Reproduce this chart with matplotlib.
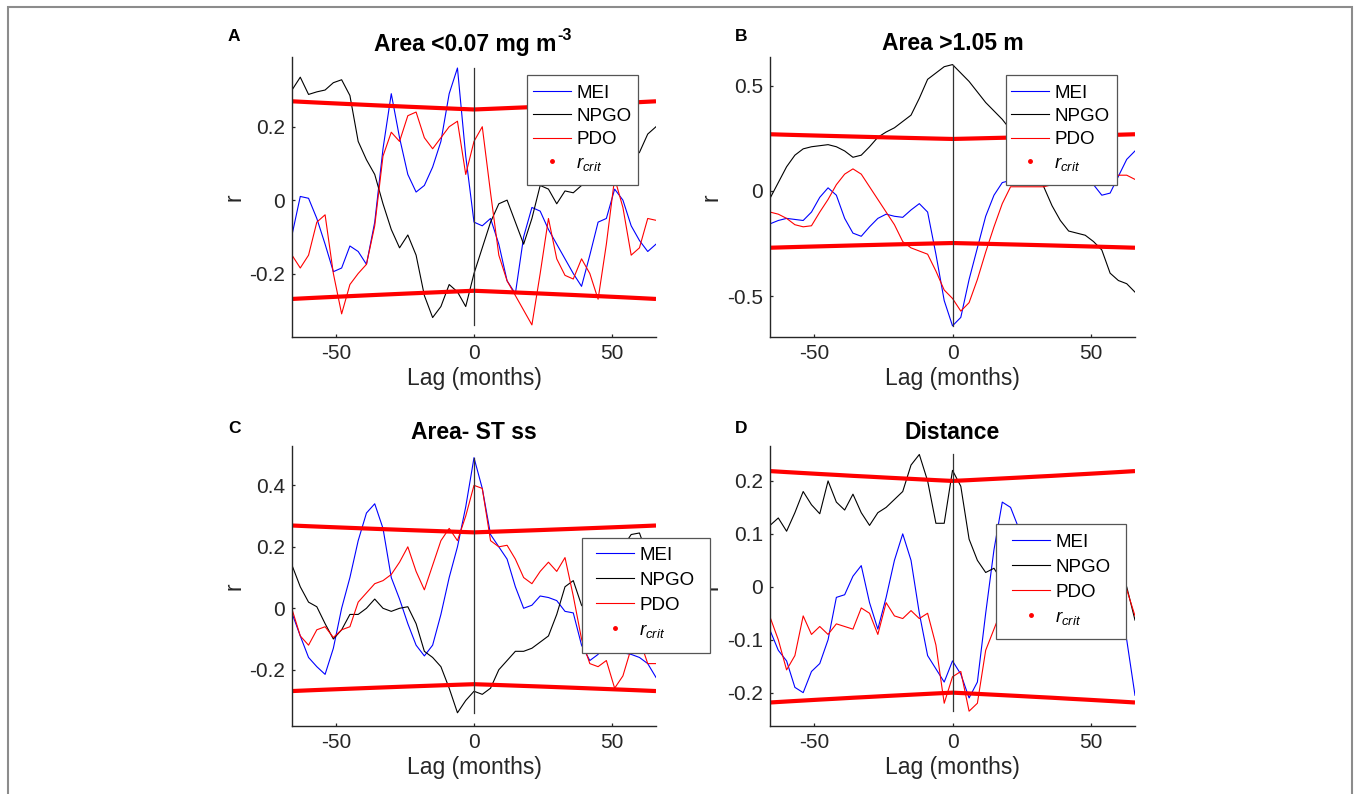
import matplotlib
matplotlib.use("Agg")
import matplotlib.pyplot as plt
from matplotlib.lines import Line2D
from matplotlib.patches import Rectangle

plt.rcParams['font.family'] = ['Liberation Sans', 'DejaVu Sans']
plt.rcParams['axes.unicode_minus'] = False
plt.rcParams['mathtext.fontset'] = 'custom'
plt.rcParams['mathtext.rm'] = 'Liberation Sans'
plt.rcParams['mathtext.it'] = 'Liberation Sans:italic'
plt.rcParams['mathtext.bf'] = 'Liberation Sans:bold'

# ---------------- data ----------------
lag = [-66, -63, -60, -57, -54, -51, -48, -45, -42, -39, -36, -33, -30, -27, -24,
       -21, -18, -15, -12, -9, -6, -3, 0, 3, 6, 9, 12, 15, 18, 21, 24, 27, 30, 33,
       36, 39, 42, 45, 48, 51, 54, 57, 60, 63, 66]

mei_A = [-0.095, 0.010, 0.005, -0.05, -0.12, -0.195, -0.185, -0.125, -0.14, -0.175,
         -0.06, 0.14, 0.29, 0.17, 0.07, 0.022, 0.04, 0.09, 0.16, 0.29,
         0.36, 0.12, -0.06,
         -0.07, -0.05, -0.12, -0.22, -0.255, -0.10, -0.02, -0.03, -0.08, -0.12,
         -0.16, -0.20, -0.235, -0.15, -0.06, -0.05, 0.03, 0.0, -0.07, -0.11,
         -0.14, -0.12]
npgo_A = [0.30, 0.335, 0.288, 0.295, 0.30, 0.32, 0.328, 0.285, 0.16, 0.11,
          0.07, -0.01, -0.08, -0.13, -0.095, -0.15, -0.26, -0.32, -0.29, -0.23,
          -0.25, -0.29, -0.20,
          -0.13, -0.06, -0.01, 0.0, -0.06, -0.12, -0.05, 0.04, 0.03, -0.01,
          0.025, 0.02, 0.04, 0.05, 0.05, 0.07, 0.09, 0.10, 0.11, 0.13,
          0.18, 0.20]
pdo_A = [-0.15, -0.185, -0.15, -0.06, -0.04, -0.2, -0.31, -0.23, -0.2, -0.175,
         -0.07, 0.12, 0.185, 0.16, 0.23, 0.24, 0.17, 0.14, 0.17, 0.2,
         0.215, 0.07, 0.16,
         0.2, 0.02, -0.15, -0.22, -0.26, -0.3, -0.34, -0.2, -0.05, -0.16,
         -0.205, -0.215, -0.16, -0.2, -0.27, -0.12, 0.06, -0.02, -0.15, -0.13,
         -0.05, -0.055]

mei_B = [-0.156, -0.14, -0.13, -0.135, -0.14, -0.1, -0.03, 0.015, -0.02, -0.13,
         -0.2, -0.215, -0.17, -0.13, -0.11, -0.12, -0.125, -0.09, -0.06, -0.1,
         -0.3, -0.52, -0.64,
         -0.6, -0.42, -0.27, -0.12, -0.02, 0.04, 0.05, 0.05, 0.05, 0.04,
         0.04, 0.04, 0.05, 0.06, 0.06, 0.05, 0.03, -0.02, -0.01, 0.07,
         0.15, 0.19]
npgo_B = [-0.035, 0.04, 0.115, 0.17, 0.2, 0.21, 0.215, 0.22, 0.21, 0.19,
          0.16, 0.17, 0.21, 0.255, 0.28, 0.3, 0.33, 0.36, 0.44, 0.53,
          0.56, 0.59, 0.6,
          0.56, 0.52, 0.47, 0.42, 0.38, 0.34, 0.29, 0.22, 0.14, 0.07,
          0.02, -0.07, -0.14, -0.19, -0.2, -0.21, -0.24, -0.28, -0.39, -0.425,
          -0.44, -0.48]
pdo_B = [-0.1, -0.11, -0.13, -0.16, -0.17, -0.165, -0.1, -0.04, 0.03, 0.08,
         0.105, 0.08, 0.02, -0.04, -0.1, -0.16, -0.24, -0.27, -0.285, -0.3,
         -0.38, -0.47, -0.51,
         -0.57, -0.53, -0.42, -0.29, -0.17, -0.06, 0.02, 0.02, 0.02, 0.02,
         0.02, 0.03, 0.04, 0.05, 0.05, 0.05, 0.05, 0.06, 0.065, 0.075,
         0.075, 0.055]

mei_C = [-0.016, -0.09, -0.16, -0.19, -0.215, -0.13, 0.0, 0.1, 0.22, 0.31,
         0.34, 0.26, 0.1, 0.03, -0.05, -0.12, -0.155, -0.12, -0.02, 0.1,
         0.2, 0.33, 0.49,
         0.39, 0.24, 0.2, 0.16, 0.07, 0.0, 0.01, 0.04, 0.035, 0.025,
         -0.01, -0.015, -0.12, -0.17, -0.15, -0.1, -0.08, -0.145, -0.15, -0.16,
         -0.18, -0.225]
npgo_C = [0.14, 0.07, 0.02, 0.005, -0.05, -0.1, -0.07, -0.02, -0.02, 0.0,
          0.03, 0.0, -0.01, 0.0, 0.005, -0.05, -0.14, -0.16, -0.19, -0.26,
          -0.34, -0.3, -0.27,
          -0.28, -0.26, -0.2, -0.17, -0.14, -0.14, -0.13, -0.11, -0.09, -0.02,
          0.07, 0.09, 0.01, -0.02, 0.0, 0.06, 0.13, 0.2, 0.24, 0.245,
          0.17, 0.1]
pdo_C = [-0.003, -0.09, -0.12, -0.07, -0.06, -0.095, -0.07, -0.06, 0.02, 0.05,
         0.08, 0.09, 0.11, 0.15, 0.2, 0.12, 0.06, 0.14, 0.22, 0.26,
         0.22, 0.3, 0.4,
         0.39, 0.22, 0.2, 0.205, 0.16, 0.1, 0.08, 0.12, 0.15, 0.12,
         0.165, 0.04, -0.1, -0.18, -0.19, -0.17, -0.26, -0.22, -0.13, -0.1,
         -0.18, -0.18]

mei_D = [-0.082, -0.12, -0.14, -0.19, -0.2, -0.16, -0.145, -0.1, -0.02, -0.015,
         0.02, 0.04, -0.03, -0.08, -0.02, 0.05, 0.1, 0.05, -0.05, -0.13,
         -0.155, -0.18, -0.14,
         -0.165, -0.21, -0.18, -0.05, 0.07, 0.16, 0.15, 0.11, 0.07, 0.03,
         0.0, -0.01, 0.0, 0.01, 0.01, 0.0, -0.01, -0.02, -0.03, -0.06,
         -0.1, -0.205]
npgo_D = [0.116, 0.13, 0.105, 0.14, 0.18, 0.155, 0.138, 0.2, 0.16, 0.145,
          0.175, 0.14, 0.116, 0.14, 0.15, 0.165, 0.18, 0.23, 0.25, 0.2,
          0.12, 0.12, 0.22,
          0.19, 0.09, 0.05, 0.027, 0.035, 0.01, 0.0, 0.0, 0.01, 0.02,
          0.02, 0.03, 0.03, 0.03, 0.03, 0.03, 0.02, 0.02, 0.02, 0.02,
          0.0, -0.063]
pdo_D = [-0.057, -0.1, -0.157, -0.13, -0.055, -0.09, -0.075, -0.09, -0.07, -0.075,
         -0.08, -0.04, -0.05, -0.09, -0.03, -0.055, -0.06, -0.045, -0.06, -0.05,
         -0.11, -0.22, -0.17,
         -0.16, -0.235, -0.22, -0.12, -0.08, -0.04, -0.02, 0.0, 0.01, 0.01,
         0.02, 0.02, 0.02, 0.02, 0.02, 0.02, 0.02, 0.02, 0.02, 0.02,
         -0.005, -0.055]

rcrit_lag = [-66, -60, -54, -48, -42, -36, -30, -24, -18, -12, -6, 0,
             6, 12, 18, 24, 30, 36, 42, 48, 54, 60, 66]
rcrit_half_ABC = [0.247, 0.2488, 0.2507, 0.2526, 0.2545, 0.2565, 0.2585,
                  0.2606, 0.2627, 0.2648, 0.2670, 0.2693]
rcrit_half_D = [0.200, 0.2015, 0.2031, 0.2047, 0.2063, 0.2080, 0.2096,
                0.2114, 0.2131, 0.2149, 0.2167, 0.2186]

titles = ['Area <0.07 mg m', 'Area >1.05 m', 'Area- ST ss', 'Distance']
title_sup = '-3'
letters = ['A', 'B', 'C', 'D']
series = [(mei_A, npgo_A, pdo_A), (mei_B, npgo_B, pdo_B),
          (mei_C, npgo_C, pdo_C), (mei_D, npgo_D, pdo_D)]
rcrit_halves = [rcrit_half_ABC, rcrit_half_ABC, rcrit_half_ABC, rcrit_half_D]
ylims = [(-0.373, 0.39), (-0.693, 0.636), (-0.383, 0.528), (-0.263, 0.266)]
yticks = [[-0.2, 0, 0.2], [-0.5, 0, 0.5], [-0.2, 0, 0.2, 0.4],
          [-0.2, -0.1, 0, 0.1, 0.2]]
xticks = [-50, 0, 50]
series_names = ['MEI', 'NPGO', 'PDO']
rcrit_name = r'$r_{crit}$'

# ---------------- layout ----------------
W, H = 1360, 794
fig = plt.figure(figsize=(W / 100, H / 100), dpi=100)

def box(l, t, r, b):
    return [l / W, 1 - b / H, (r - l) / W, (b - t) / H]

axes_px = [(292, 57, 656, 337), (770, 57, 1135, 337),
           (292, 446, 656, 726), (770, 446, 1135, 726)]
legend_box = [(527, 75, 638, 185), (1006, 75, 1117, 185),
              (582, 538, 710, 653), (996, 524, 1126, 639)]
legend_start = [(533, 91), (1011, 91), (596, 553), (1012, 540)]
legend_lsp = [0.33, 0.33, 0.42, 0.42]
letter_pos = [(228, 41), (735, 41), (228, 433), (735, 433)]

colors = ['#0000FF', '#000000', '#FF0000']
axc = '#262626'

for i in range(4):
    ax = fig.add_axes(box(*axes_px[i]))
    ax.patch.set_alpha(0)
    mei, npgo, pdo = series[i]
    handles = []
    for vals, c in zip((mei, npgo, pdo), colors):
        h, = ax.plot(lag, vals, color=c, lw=0.8)
        handles.append(h)
    half = rcrit_halves[i]
    rc = half[::-1] + half[1:]
    ax.plot(rcrit_lag, rc, color='#FF0000', lw=3.0, solid_capstyle='butt')
    ax.plot(rcrit_lag, [-v for v in rc], color='#FF0000', lw=3.0, solid_capstyle='butt')
    allv = list(mei) + list(npgo) + list(pdo)
    ax.plot([0, 0], [min(allv), max(allv)], color='#333333', lw=0.9)

    ax.set_xlim(-66, 66)
    ax.set_ylim(*ylims[i])
    ax.set_xticks(xticks)
    ax.set_xticklabels([str(v) for v in xticks])
    ax.set_yticks(yticks[i])
    ax.set_yticklabels(['0' if v == 0 else ('%g' % v) for v in yticks[i]])
    for s in ['top', 'right']:
        ax.spines[s].set_visible(False)
    for s in ['left', 'bottom']:
        ax.spines[s].set_color(axc)
        ax.spines[s].set_linewidth(1.0)
    ax.tick_params(direction='in', length=2.5, width=0.9, colors=axc,
                   labelsize=15, labelcolor=axc, pad=5)
    ax.set_xlabel('Lag (months)', fontsize=16.5, color=axc, labelpad=3)
    ax.set_ylabel('r', fontsize=16.5, color=axc, labelpad=3)

    if i == 0:
        fig.text(465.5 / W, 1 - 50.5 / H, titles[i], fontsize=16.5,
                 fontweight='bold', ha='center', va='baseline')
        fig.text(557.5 / W, 1 - 40 / H, title_sup, fontsize=11.5,
                 fontweight='bold', ha='left', va='baseline')
    else:
        ax.set_title(titles[i], fontsize=16.5, fontweight='bold', pad=5)

    proxy = Line2D([], [], color='#FF0000', marker='.', ls='None', markersize=5)
    hx, hy = legend_start[i]
    leg = ax.legend(handles + [proxy], series_names + [rcrit_name],
                    loc='upper left', bbox_to_anchor=(hx / W, 1 - (hy - 6.4) / H),
                    bbox_transform=fig.transFigure, fontsize=13.5,
                    frameon=False, borderpad=0, labelspacing=legend_lsp[i],
                    handlelength=2.05, handletextpad=0.25, borderaxespad=0)
    leg.set_zorder(6)
    bl, bt, br, bb = legend_box[i]
    frame = Rectangle((bl / W, 1 - bb / H), (br - bl) / W, (bb - bt) / H,
                      transform=fig.transFigure, facecolor='white',
                      edgecolor='#555555', lw=0.9, zorder=5.5, clip_on=False)
    ax.add_artist(frame)
    if i == 2:
        ax.set_zorder(3)

    fx, fy = letter_pos[i]
    fig.text(fx / W, 1 - fy / H, letters[i], fontsize=12.5, fontweight='bold',
             va='baseline', ha='left')

fig.add_artist(Rectangle((8 / W, -0.05), (1352 - 8) / W, 1 - 7 / H + 0.05,
                         transform=fig.transFigure, fill=False,
                         ec='#8c8c8c', lw=1.5))

fig.savefig('out.png', dpi=100)
